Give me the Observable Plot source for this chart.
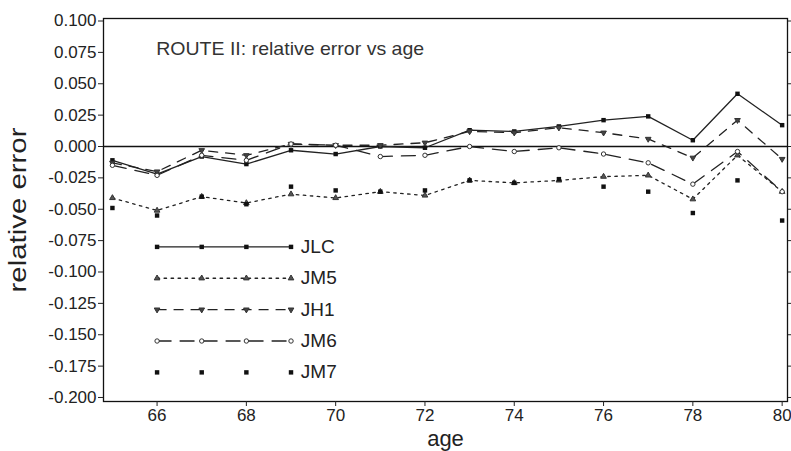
<!DOCTYPE html>
<html><head><meta charset="utf-8">
<script src="https://cdn.jsdelivr.net/npm/d3@7"></script>
<script src="https://cdn.jsdelivr.net/npm/@observablehq/plot@0.6"></script>
<style>body{margin:0;background:#fff;} #chart svg{display:block;}</style>
</head><body><div id="chart"></div>
<script>
const ages = [65,66,67,68,69,70,71,72,73,74,75,76,77,78,79,80];
const JLC = [-0.011,-0.022,-0.008,-0.014,-0.003,-0.006,0.000,-0.001,0.013,0.012,0.016,0.021,0.024,0.005,0.042,0.017];
const JM5 = [-0.041,-0.051,-0.040,-0.045,-0.038,-0.041,-0.036,-0.039,-0.027,-0.029,-0.027,-0.024,-0.023,-0.042,-0.007,-0.036];
const JH1 = [-0.013,-0.020,-0.003,-0.007,0.002,0.001,0.001,0.003,0.012,0.011,0.015,0.011,0.006,-0.009,0.021,-0.010];
const JM6 = [-0.015,-0.023,-0.007,-0.011,0.002,0.001,-0.008,-0.007,0.000,-0.004,-0.001,-0.006,-0.013,-0.030,-0.004,-0.036];
const JM7 = [-0.049,-0.055,-0.040,-0.046,-0.032,-0.035,-0.036,-0.035,-0.027,-0.029,-0.026,-0.032,-0.036,-0.053,-0.027,-0.059];
const seriesNames = ["JLC","JM5","JH1","JM6","JM7"];
const xTicks = [66,68,70,72,74,76,78,80];
const yTicks = [-0.200,-0.175,-0.150,-0.125,-0.100,-0.075,-0.050,-0.025,0.000,0.025,0.050,0.075,0.100];
const titleText = "ROUTE II: relative error vs age";
const xLabel = "age";
const yLabel = "relative error";

const seriesValues = {JLC, JM5, JH1, JM6, JM7};

// inverted triangle symbol
const triangleDown = {
  draw(ctx, size) {
    const y = -Math.sqrt(size / (Math.sqrt(3) * 3));
    ctx.moveTo(0, -y * 2);
    ctx.lineTo(-Math.sqrt(3) * y, y);
    ctx.lineTo(Math.sqrt(3) * y, y);
    ctx.closePath();
  }
};

const styles = {
  JLC: {line: true, dash: null, symbol: "square", fill: "#111", stroke: "none", r: 2.5},
  JM5: {line: true, dash: "2.5,4.5", symbol: "triangle", fill: "#555", stroke: "#333", r: 2.1},
  JH1: {line: true, dash: "9,8", symbol: triangleDown, fill: "#444", stroke: "#333", r: 2.1},
  JM6: {line: true, dash: "14,9", symbol: "circle", fill: "white", stroke: "#333", r: 2.2},
  JM7: {line: false, dash: null, symbol: "square", fill: "#111", stroke: "none", r: 2.5}
};

const data = seriesNames.flatMap(s => ages.map((a, i) => ({series: s, age: a, value: seriesValues[s][i]})));

// legend placed in data space, lower-left
const legendXs = [66, 67, 68, 69];
const legendRows = seriesNames.map((s, i) => ({series: s, y: -0.080 - 0.025 * i}));
const legendPts = legendRows.flatMap(r => legendXs.map(x => ({series: r.series, age: x, value: r.y})));

const marks = [
  Plot.frame({stroke: "#111", strokeWidth: 1.3}),
  Plot.ruleY([0], {stroke: "#111", strokeWidth: 1.4})
];
for (const s of seriesNames) {
  const st = styles[s];
  const d = data.filter(p => p.series === s);
  const l = legendPts.filter(p => p.series === s);
  if (st.line) {
    marks.push(Plot.line(d, {x: "age", y: "value", stroke: "#222", strokeWidth: 1.3, strokeDasharray: st.dash}));
    marks.push(Plot.line(l, {x: "age", y: "value", stroke: "#222", strokeWidth: 1.3, strokeDasharray: st.dash}));
  }
  marks.push(Plot.dot(d, {x: "age", y: "value", symbol: () => st.symbol, r: st.r, fill: st.fill, stroke: st.stroke, strokeWidth: 1}));
  marks.push(Plot.dot(l, {x: "age", y: "value", symbol: () => st.symbol, r: st.r, fill: st.fill, stroke: st.stroke, strokeWidth: 1}));
}
marks.push(Plot.text(legendRows, {x: () => 69.22, y: "y", text: "series", textAnchor: "start", fontSize: 19, fill: "#222"}));
marks.push(Plot.text([titleText], {x: () => 65.98, y: () => 0.0775, text: d => d, textAnchor: "start", fontSize: 19, fill: "#333", className: "ttl"}));
marks.push(Plot.axisX({ticks: xTicks, tickSize: 5, tickPadding: 2, fontSize: 17, label: null, tickFormat: d => String(d)}));
marks.push(Plot.axisY({ticks: yTicks, tickSize: 5, tickPadding: 2, fontSize: 17, label: null, tickFormat: d => d.toFixed(3)}));
marks.push(Plot.axisY({anchor: "right", ticks: yTicks, tickSize: 5, label: null, tickFormat: () => ""}));
marks.push(Plot.text([xLabel], {frameAnchor: "bottom", dy: 37, lineAnchor: "middle", textAnchor: "middle", fontSize: 22, fill: "#222"}));
marks.push(Plot.text([yLabel], {frameAnchor: "left", dx: -85, rotate: -90, textAnchor: "middle", lineAnchor: "middle", fontSize: 23, fill: "#222", className: "ylab"}));

const chart = Plot.plot({
  width: 791,
  height: 451,
  marginLeft: 103,
  marginRight: 4,
  marginTop: 18,
  marginBottom: 50,
  style: {fontFamily: "'Liberation Sans', Arial, Helvetica, sans-serif", color: "#222", background: "white"},
  x: {domain: [64.8, 80.12]},
  y: {domain: [-0.2032, 0.102]},
  marks
});
document.getElementById("chart").appendChild(chart);
// stretch the wide-set labels to the reference's lengths
chart.querySelectorAll("g.ylab text").forEach(t => { t.setAttribute("textLength", 165); t.setAttribute("lengthAdjust", "spacingAndGlyphs"); });
chart.querySelectorAll("g.ttl text").forEach(t => { t.setAttribute("textLength", 268); t.setAttribute("lengthAdjust", "spacingAndGlyphs"); });
</script>
</body></html>
